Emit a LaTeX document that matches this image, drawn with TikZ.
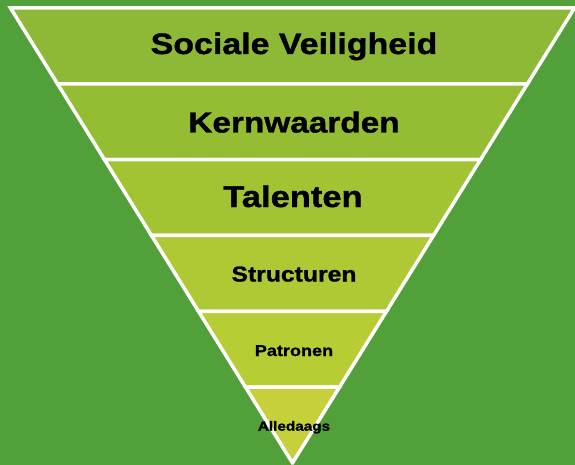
\documentclass[tikz,border=0pt]{standalone}
\usepackage{fontspec}
\usepackage{xcolor}
\newfontfamily\bandfont{Liberation Sans}[FakeStretch=1.15,FakeBold=1.2]

\definecolor{veld}{RGB}{82,160,58}
\definecolor{laag1}{RGB}{141,185,54}
\definecolor{laag2}{RGB}{149,189,52}
\definecolor{laag3}{RGB}{163,196,50}
\definecolor{laag4}{RGB}{174,201,51}
\definecolor{laag5}{RGB}{184,205,52}
\definecolor{laag6}{RGB}{197,208,58}

\begin{document}
\begin{tikzpicture}%
  [x=1pt,y=-1pt,
   lbl/.style={font=\bandfont\bfseries\fontsize{#1}{#1}\selectfont,
     text=black,inner sep=0,anchor=base}]
  \tikzstyle{laag}=[draw=white,line width=3.5pt,line join=miter]
  \fill[veld](0,0) rectangle (575,465);
  \useasboundingbox (0,0) rectangle (575,465);
  % lagen van de omgekeerde piramide
  \foreach \kleur [count=\i from 0] in {laag1,laag2,laag3,laag4,laag5,laag6}{
    \pgfmathsetmacro\ya{8+\i*75.83}
    \pgfmathsetmacro\yb{8+(\i+1)*75.83}
    \pgfmathsetmacro\wa{0.61978*(463-\ya)}
    \pgfmathsetmacro\wb{0.61978*(463-\yb)}
    \filldraw[laag,fill=\kleur](292.5-\wa,\ya) -- (292.5+\wa,\ya)
      -- (292.5+\wb,\yb) -- (292.5-\wb,\yb) -- cycle;
  }
  \node(sociaal)[lbl=29.5] at (294,54){Sociale Veiligheid};
  \node(kern)[lbl=29] at (294,132.5){Kernwaarden};
  \node(talent)[lbl=30] at (293,207){Talenten};
  \node(structuur)[lbl=21.5] at (294,281.5){Structuren};
  \node(patroon)[lbl=15.7] at (294,356){Patronen};
  \node(alledaags)[lbl=13.3] at (294,430.7){Alledaags};
\end{tikzpicture}
\end{document}
